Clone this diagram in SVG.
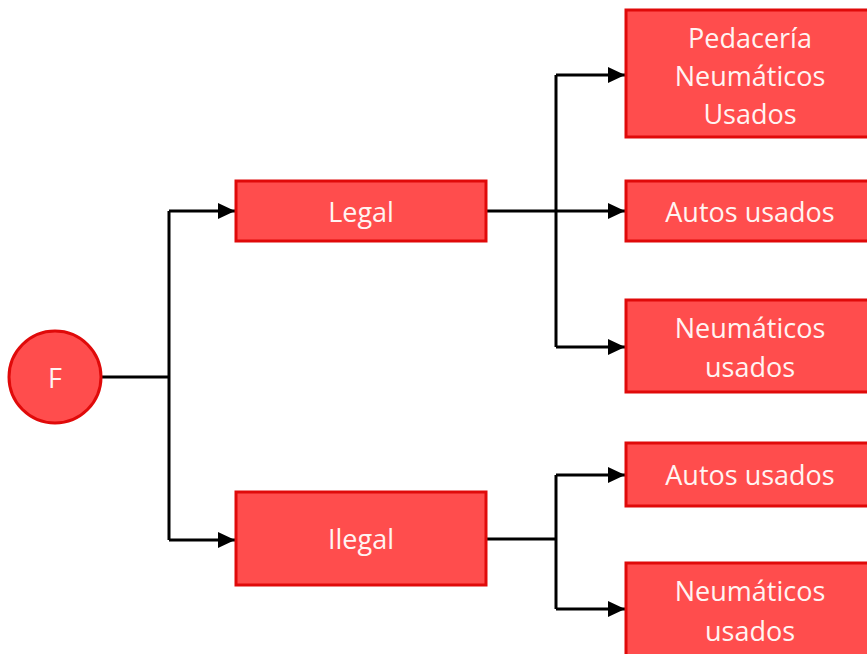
<svg xmlns="http://www.w3.org/2000/svg" width="867" height="654" viewBox="0 0 867 654">
  <defs>
    <marker id="arrow" markerUnits="userSpaceOnUse" markerWidth="18" markerHeight="17" refX="17" refY="8" orient="auto">
      <path d="M0,0 L17,8 L0,16 z" fill="#000"/>
    </marker>
    <style>
      .box { fill: #FF4D4D; stroke: #E00A0A; stroke-width: 3; }
      .lbl { fill: #FFF4F2; font-family: "Open Sans", "Liberation Sans", sans-serif; font-size: 27px; text-anchor: middle; dominant-baseline: central; }
      .wire { fill: none; stroke: #000; stroke-width: 3; }
      .arr { fill: none; stroke: #000; stroke-width: 3; marker-end: url(#arrow); }
    </style>
  </defs>
  <rect width="867" height="654" fill="#fff"/>

  <g id="connectors">
    <!-- root to trunk -->
    <path class="wire" d="M101,377 H169"/>
    <path class="wire" d="M169,211 V540"/>
    <path class="arr" d="M169,211 H235"/>
    <path class="arr" d="M169,540 H235"/>
    <!-- Legal branch -->
    <path class="arr" d="M486,211 H625"/>
    <path class="wire" d="M556,75 V347"/>
    <path class="arr" d="M556,75 H625"/>
    <path class="arr" d="M556,347 H625"/>
    <!-- Ilegal branch -->
    <path class="wire" d="M486,539 H556"/>
    <path class="wire" d="M556,475 V609"/>
    <path class="arr" d="M556,475 H625"/>
    <path class="arr" d="M556,609 H625"/>
  </g>

  <g id="node-f">
    <circle class="box" cx="55" cy="377" r="46"/>
    <text class="lbl" x="55" y="377">F</text>
  </g>

  <g id="node-legal">
    <rect class="box" x="236" y="181" width="250" height="60"/>
    <text class="lbl" x="361" y="211">Legal</text>
  </g>

  <g id="node-ilegal">
    <rect class="box" x="236" y="492" width="250" height="93"/>
    <text class="lbl" x="361" y="538">Ilegal</text>
  </g>

  <g id="node-pedaceria">
    <rect class="box" x="626" y="10" width="250" height="127"/>
    <text class="lbl" x="750" y="37">Pedacería</text>
    <text class="lbl" x="750" y="75">Neumáticos</text>
    <text class="lbl" x="750" y="113">Usados</text>
  </g>

  <g id="node-legal-autos">
    <rect class="box" x="626" y="181" width="250" height="60"/>
    <text class="lbl" x="750" y="211">Autos usados</text>
  </g>

  <g id="node-legal-neumaticos">
    <rect class="box" x="626" y="300" width="250" height="92"/>
    <text class="lbl" x="750" y="327">Neumáticos</text>
    <text class="lbl" x="750" y="366">usados</text>
  </g>

  <g id="node-ilegal-autos">
    <rect class="box" x="626" y="443" width="250" height="63"/>
    <text class="lbl" x="750" y="474">Autos usados</text>
  </g>

  <g id="node-ilegal-neumaticos">
    <rect class="box" x="626" y="563" width="250" height="100"/>
    <text class="lbl" x="750" y="590">Neumáticos</text>
    <text class="lbl" x="750" y="630">usados</text>
  </g>
</svg>
